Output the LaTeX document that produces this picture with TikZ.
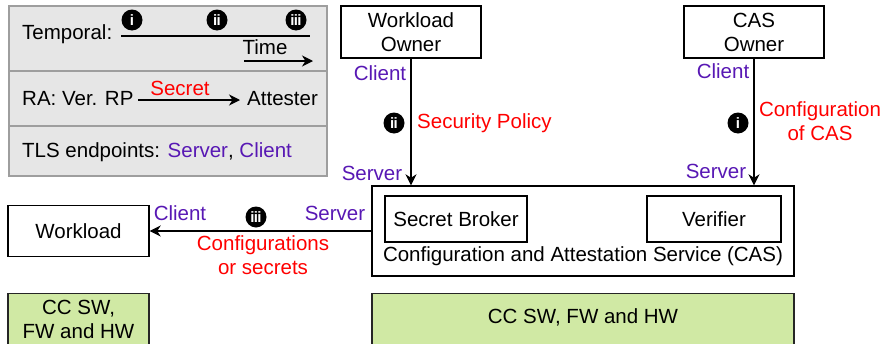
\documentclass[tikz,border=0pt]{standalone}
\usepackage{fontspec}
\setmainfont{Liberation Sans}
\usetikzlibrary{arrows.meta}

\definecolor{tlspurple}{RGB}{88,24,180}
\definecolor{msgred}{RGB}{255,0,0}
\definecolor{hwgreen}{RGB}{208,233,164}
\definecolor{legendfill}{RGB}{230,230,230}
\definecolor{legendline}{RGB}{158,158,158}

\tikzset{
  box/.style={draw, line width=1.4pt, inner sep=0pt, align=center},
  greenbox/.style={box, fill=hwgreen, draw=black!85},
  txt/.style={inner sep=0pt, align=center},
  tls/.style={txt, text=tlspurple},
  msg/.style={txt, text=msgred},
  badge/.style={circle, fill=black, inner sep=0pt, minimum size=21pt,
    text=white, font=\fontsize{15}{15}\selectfont\bfseries},
  flow/.style={line width=1.4pt, -{Stealth[length=11pt,width=11pt,inset=3.5pt]}}
}
\newcommand{\rmi}{i}
\newcommand{\rmii}{i\kern-0.6pt i}
\newcommand{\rmiii}{i\kern-0.6pt i\kern-0.6pt i}

\begin{document}
\begin{tikzpicture}[x=1pt, y=-1pt, font=\fontsize{20.5}{24}\selectfont]
\useasboundingbox (0,0) rectangle (884,343);

% legend panel
\node[draw=legendline, fill=legendfill, line width=1.2pt, inner sep=0pt,
      minimum width=318pt, minimum height=170pt] (legend) at (168,91) {};
\draw[legendline, line width=1.2pt] (9,71) -- (327,71) (9,126) -- (327,126);

\node[txt, anchor=west] (ltemp) at (22,34) {Temporal:};
\coordinate (tl0) at (121,36);
\coordinate (tl1) at (310,36);
\draw[line width=1.3pt] (tl0) -- (tl1);
\node[badge] (lb1) at (132,20) {\rmi};
\node[badge] (lb2) at (217,20) {\rmii};
\node[badge] (lb3) at (296,20) {\rmiii};
\node[txt] (ltime) at (265,47) {Time};
\coordinate (ta0) at (244,61);
\coordinate (ta1) at (313,61);
\draw[flow] (ta0) -- (ta1);

\node[txt, anchor=west] (lra) at (22,99) {RA: Ver. RP};
\node[txt, anchor=west] (latt) at (247,99) {Attester};
\coordinate (ra0) at (138,100);
\coordinate (ra1) at (240,100);
\draw[flow] (ra0) -- (ra1);
\node[msg] (lsec) at (180,88) {Secret};

\node[txt, anchor=west] (ltls) at (22,152)
  {TLS endpoints: \textcolor{tlspurple}{Server}, \textcolor{tlspurple}{Client}};

% parties
\node[box, minimum width=140pt, minimum height=52pt] (wo) at (411,32) {Workload\\Owner};
\node[box, minimum width=140pt, minimum height=52pt] (co) at (754,32) {CAS\\Owner};

\node[box, minimum width=422pt, minimum height=90pt] (cas) at (583,231) {};
\node[box, minimum width=142pt, minimum height=46pt] (sb) at (456,219) {Secret Broker};
\node[box, minimum width=134pt, minimum height=46pt] (ver) at (714,219) {Verifier};
\node[txt] (caslbl) at (583,256) {Configuration and Attestation Service (CAS)};

\node[box, minimum width=141pt, minimum height=51pt] (wl) at (78.5,231) {Workload};

% hardware layers
\node[greenbox, minimum width=141pt, minimum height=70pt, anchor=north] (hwl) at (78.5,293) {};
\node[txt] (hwltxt) at (78.5,319) {CC SW,\\FW and HW};
\node[greenbox, minimum width=422pt, minimum height=70pt, anchor=north] (hwr) at (583,293) {};
\node[txt] (hwrtxt) at (583,317) {CC SW, FW and HW};

% flows
\draw[flow] (wo.south) -- (wo.south |- cas.north);
\draw[flow] (co.south) -- (co.south |- cas.north);
\draw[flow] (cas.west) -- (wl.east |- cas.west);

% flow labels
\node[tls] (woc) at (380,73) {Client};
\node[tls] (wos) at (372,173) {Server};
\node[badge] (b2) at (394,123) {\rmii};
\node[msg, anchor=west] (secpol) at (417,123) {Security Policy};

\node[tls] (coc) at (723,71) {Client};
\node[tls] (cos) at (716,171) {Server};
\node[badge] (b1) at (738,123) {\rmi};
\node[msg] (confcas) at (820,121) {Configuration\\of CAS};

\node[tls] (wlc) at (180,213) {Client};
\node[tls] (wls) at (335,213) {Server};
\node[badge] (b3) at (256,217) {\rmiii};
\node[msg] (confsec) at (263,255) {Configurations\\or secrets};
\end{tikzpicture}
\end{document}
